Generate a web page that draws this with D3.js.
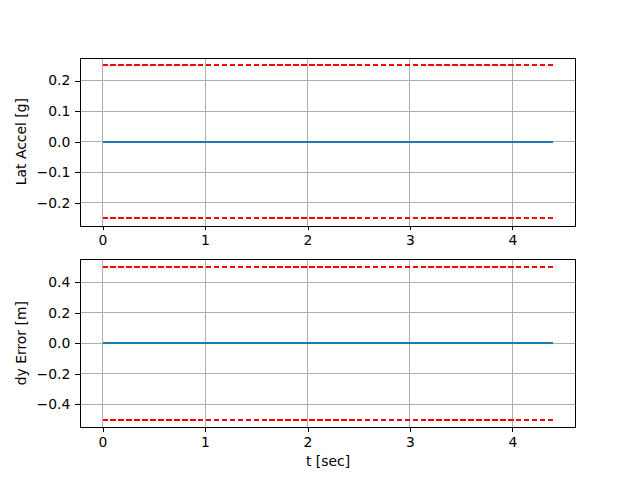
<!DOCTYPE html>
<html><head><meta charset="utf-8">
<script src="https://cdn.jsdelivr.net/npm/d3@7"></script>
<style>body{margin:0;background:#fff}svg{display:block}text{font-family:"DejaVu Sans",sans-serif}</style>
</head><body><div id="c"></div>
<script>
const tValues = [0, 1, 2, 3, 4, 4.4];
const latAccel = [0, 0, 0, 0, 0, 0];
const latLimit = 0.25;
const dyError = [0, 0, 0, 0, 0, 0];
const dyLimit = 0.5;
const xTicks = [0, 1, 2, 3, 4];
const latTicks = [-0.2, -0.1, 0.0, 0.1, 0.2];
const dyTicks = [-0.4, -0.2, 0.0, 0.2, 0.4];
const panels = [
  {label: "Lat Accel [g]", vals: latAccel, lim: latLimit, ticks: latTicks, top: 57.6},
  {label: "dy Error [m]", vals: dyError, lim: dyLimit, ticks: dyTicks, top: 259.2}
];
const W = 640, H = 480, L = 80, R = 576, PH = 168;
const svg = d3.select("#c").append("svg").attr("width", W).attr("height", H);
const xmin = d3.min(tValues), xmax = d3.max(tValues), xm = (xmax - xmin) * 0.05;
const x = d3.scaleLinear().domain([xmin - xm, xmax + xm]).range([L, R]);
const fs = 13.9;
const half = v => Math.floor(v) + 0.5;
panels.forEach(p => {
  const ymin = -p.lim, ymax = p.lim, ym = (ymax - ymin) * 0.05;
  const y = d3.scaleLinear().domain([ymin - ym, ymax + ym]).range([p.top + PH, p.top]);
  const g = svg.append("g");
  // grid
  g.selectAll(".gx").data(xTicks).enter().append("line")
    .attr("x1", d => half(x(d))).attr("x2", d => half(x(d))).attr("y1", p.top).attr("y2", p.top + PH)
    .attr("stroke", "#b0b0b0").attr("stroke-width", 1).attr("shape-rendering", "crispEdges");
  g.selectAll(".gy").data(p.ticks).enter().append("line")
    .attr("y1", d => half(y(d))).attr("y2", d => half(y(d))).attr("x1", L).attr("x2", R)
    .attr("stroke", "#b0b0b0").attr("stroke-width", 1).attr("shape-rendering", "crispEdges");
  // limits
  [p.lim, -p.lim].forEach(v => {
    g.append("path").datum(tValues).attr("fill", "none").attr("stroke", "#ff0000")
      .attr("stroke-width", 2).attr("stroke-dasharray", "5.55,2.4").attr("shape-rendering", "crispEdges")
      .attr("d", d3.line().x(d => x(d)).y(() => Math.round(y(v))));
  });
  // series
  g.append("path").datum(tValues.map((t, i) => [t, p.vals[i]])).attr("fill", "none")
    .attr("stroke", "#1f77b4").attr("stroke-width", 2).attr("shape-rendering", "crispEdges")
    .attr("d", d3.line().x(d => x(d[0])).y(d => Math.round(y(d[1]))));
  // axes
  const xa = g.append("g").attr("transform", `translate(0,${p.top + PH})`)
    .call(d3.axisBottom(x).tickValues(xTicks).tickFormat(d3.format("d")).tickSizeInner(4.86).tickSizeOuter(0).tickPadding(4.86));
  const ya = g.append("g").attr("transform", `translate(${L},0)`)
    .call(d3.axisLeft(y).tickValues(p.ticks).tickFormat(d => (d < 0 ? "\u2212" : "") + Math.abs(d).toFixed(1)).tickSizeInner(4.86).tickSizeOuter(0).tickPadding(4.86));
  [xa, ya].forEach(a => {
    a.select(".domain").remove();
    a.selectAll("line").attr("stroke", "#000").attr("stroke-width", 1).attr("shape-rendering", "crispEdges");
    a.selectAll("text").attr("font-size", fs).attr("fill", "#000").attr("font-family", "DejaVu Sans");
  });
  g.append("rect").attr("x", L + 0.5).attr("y", Math.round(p.top) + 0.5).attr("width", R - L - 1).attr("height", PH)
    .attr("fill", "none").attr("stroke", "#000").attr("stroke-width", 1).attr("shape-rendering", "crispEdges");
  g.append("text").attr("transform", `translate(25.5,${p.top + PH / 2}) rotate(-90)`)
    .attr("text-anchor", "middle").attr("font-size", fs).text(p.label);
});
svg.append("text").attr("x", (L + R) / 2).attr("y", 466).attr("text-anchor", "middle")
  .attr("font-size", fs).text("t [sec]");
</script></body></html>
